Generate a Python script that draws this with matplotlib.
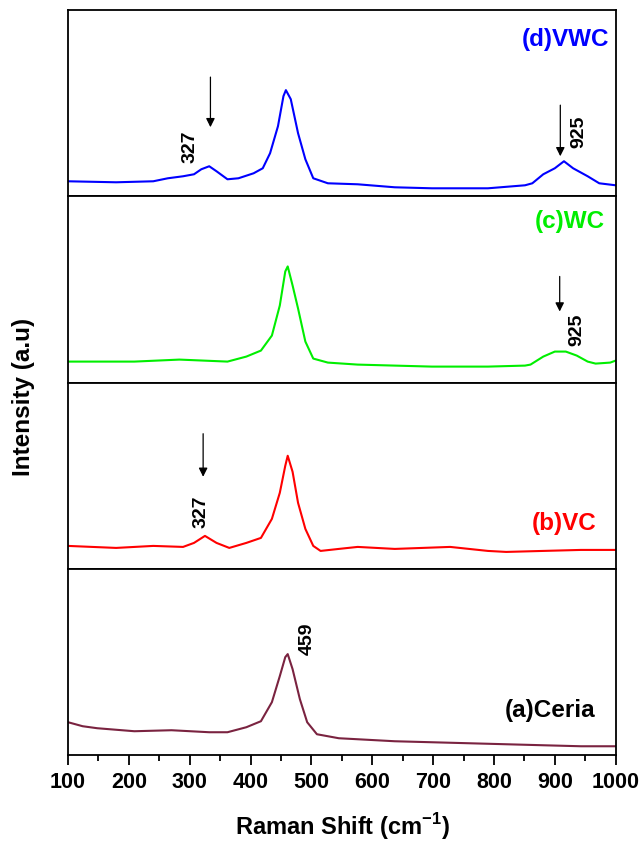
import matplotlib
matplotlib.use("Agg")
import matplotlib.pyplot as plt

plt.rcParams['font.family'] = ['Liberation Sans', 'DejaVu Sans']
plt.rcParams['mathtext.fontset'] = 'custom'
plt.rcParams['mathtext.rm'] = 'Liberation Sans'
plt.rcParams['mathtext.bf'] = 'Liberation Sans:bold'

# Raman shift positions (cm-1) and intensities (a.u.)
x_vwc = [100, 179, 240, 264, 289, 307, 319, 332, 344, 362, 380, 405, 420, 432,
         445, 454, 458, 466, 478, 490, 503, 527, 576, 637, 698, 790, 851, 863,
         881, 900, 915, 930, 954, 973, 1000]
y_vwc = [15, 14, 15, 18, 20, 22, 27, 30, 25, 17, 18, 23, 28, 43,
         70, 100, 106, 97, 63, 37, 18, 13, 12, 9, 8, 8, 11, 13,
         22, 28, 35, 28, 20, 13, 11]

x_wc = [100, 209, 283, 362, 393, 417, 435, 448, 457, 461, 469, 478, 490, 503,
        527, 576, 698, 790, 851, 860, 881, 900, 918, 936, 954, 967, 991, 1000]
y_wc = [21, 21, 23, 21, 26, 32, 47, 77, 111, 116, 97, 74, 41, 24,
        20, 18, 16, 16, 17, 18, 26, 31, 31, 27, 21, 19, 20, 22]

x_vc = [100, 179, 240, 289, 307, 325, 344, 365, 393, 417, 435, 448, 457, 461,
        469, 478, 490, 503, 515, 545, 576, 637, 728, 790, 820, 881, 943, 1000]
y_vc = [23, 21, 23, 22, 26, 33, 26, 21, 26, 31, 50, 76, 103, 113,
        97, 66, 40, 23, 18, 20, 22, 20, 22, 18, 17, 18, 19, 19]

x_ceria = [100, 124, 148, 209, 270, 332, 362, 393, 417, 435, 448, 457, 461,
           469, 481, 493, 509, 545, 576, 637, 698, 759, 820, 881, 943, 1000]
y_ceria = [33, 29, 27, 24, 25, 23, 23, 28, 34, 53, 79, 98, 101,
           86, 56, 33, 21, 17, 16, 14, 13, 12, 11, 10, 9, 9]

labels = ['(d)VWC', '(c)WC', '(b)VC', '(a)Ceria']
colors = ['#0000ff', '#00ee00', '#ff0000', '#7a2340']
label_colors = ['#0000ff', '#00ee00', '#ff0000', 'black']
xs = [x_vwc, x_wc, x_vc, x_ceria]
ys = [y_vwc, y_wc, y_vc, y_ceria]
label_pos = [(990, 158), (982, 162), (969, 46), (966, 46)]

# peak markers: (panel, x, arrow top, arrow bottom) and (panel, x, y, text)
arrows = [(0, 334, 119, 69), (0, 909, 91, 40), (1, 908, 106, 71), (2, 322, 135, 92)]
peak_texts = [(0, 300, 50, '327'), (0, 940, 65, '925'), (1, 936, 54, '925'),
              (2, 319, 58, '327'), (3, 493, 117, '459')]

fig, axes = plt.subplots(4, 1, sharex=True, figsize=(6.42, 8.45), dpi=100)
fig.subplots_adjust(left=0.106, right=0.959, top=0.987, bottom=0.105, hspace=0)

for i, ax in enumerate(axes):
    ax.plot(xs[i], ys[i], color=colors[i], lw=1.5)
    ax.set_xlim(100, 1000)
    ax.set_ylim(0, 186)
    ax.set_yticks([])
    for s in ax.spines.values():
        s.set_linewidth(1.3)
    ax.tick_params(axis='x', which='both', bottom=False, labelbottom=False)
    x, y = label_pos[i]
    ax.text(x, y, labels[i], color=label_colors[i], fontsize=17.5,
            fontweight='bold', ha='right', va='center')

for p, x, y0, y1 in arrows:
    axes[p].annotate('', xy=(x, y1), xytext=(x, y0),
                     arrowprops=dict(arrowstyle='-|>', color='black', lw=0.9,
                                     mutation_scale=13, shrinkA=0, shrinkB=0))

for p, x, y, t in peak_texts:
    axes[p].text(x, y, t, rotation=90, fontsize=14, fontweight='bold',
                 ha='center', va='center')

bx = axes[-1]
bx.set_xticks(range(100, 1001, 100))
bx.set_xticks(range(150, 1000, 100), minor=True)
bx.tick_params(axis='x', which='major', bottom=True, labelbottom=True,
               direction='out', length=7, width=1.3, labelsize=15.5, pad=4)
bx.tick_params(axis='x', which='minor', bottom=True, direction='out',
               length=4, width=1.3)
for lab in bx.get_xticklabels():
    lab.set_fontweight('bold')

fig.text(0.533, 0.004, r'Raman Shift (cm$^{\mathbf{-1}}$)', fontsize=17,
         fontweight='bold', ha='center', va='bottom')
fig.text(0.036, 0.530, 'Intensity (a.u)', fontsize=17.5, fontweight='bold',
         rotation=90, ha='center', va='center')

fig.savefig('out.png', dpi=100)
